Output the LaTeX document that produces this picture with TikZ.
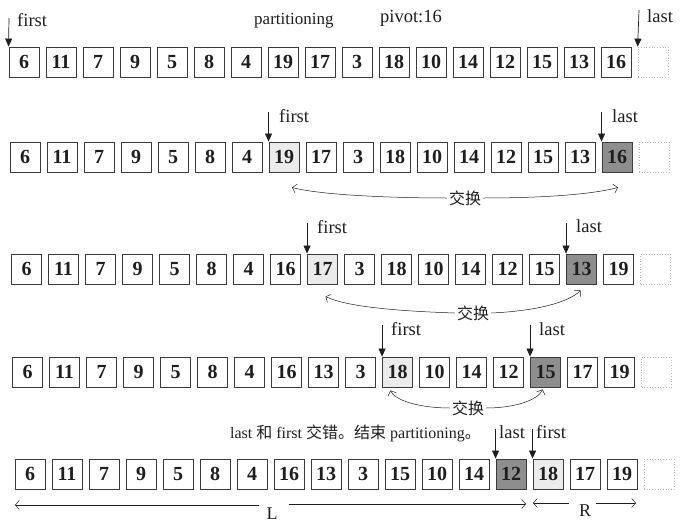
\documentclass[tikz,border=0pt]{standalone}
\usepackage{fontspec}
\setmainfont{Liberation Serif}
\newfontfamily\cjk{Noto Sans CJK SC}
\usetikzlibrary{arrows.meta,calc}
\definecolor{txt}{HTML}{1E1E1E}
\definecolor{boxc}{HTML}{3A3A3A}
\definecolor{lightc}{HTML}{EBEBEB}
\definecolor{darkc}{HTML}{8E8E8E}
\begin{document}
\begin{tikzpicture}[x=1pt,y=-1pt,
  cn/.style={draw=boxc, line width=0.9pt, minimum width=30pt, minimum height=30pt,
    inner sep=0pt, text=txt, font=\fontsize{20}{20}\selectfont\bfseries},
  cl/.style={cn, fill=lightc},
  cd/.style={cn, fill=darkc},
  emptybox/.style={draw=gray!55, dotted, line width=0.7pt, minimum width=30pt, minimum height=30pt, inner sep=0pt},
  ptr/.style={-{Triangle[length=8pt,width=7pt]}, line width=0.7pt, draw=txt},
  lbl/.style={font=\fontsize{18.5}{18.5}\selectfont, text=txt, inner sep=0pt, anchor=base west},
  sw/.style={-{Straight Barb[length=4pt,width=9pt]}, line width=0.5pt, draw=txt},
  swl/.style={font=\cjk\fontsize{16}{16}\selectfont, text=txt, inner sep=2pt},
  lr/.style={-{Straight Barb[length=4pt,width=9pt]}, line width=0.5pt, draw=txt},
]
\fill[white] (0,0) rectangle (685,530);
\useasboundingbox (0,0) rectangle (685,530);

% ---------- row 1 ----------
\foreach \v/\s [count=\i] in {6/cn,11/cn,7/cn,9/cn,5/cn,8/cn,4/cn,19/cn,17/cn,3/cn,18/cn,10/cn,14/cn,12/cn,15/cn,13/cn,16/cn}
  \node[\s] (r1b\i) at ({24+(\i-1)*37},62) {\v};
\node[emptybox] (r1b18) at ({24+17*37},62) {};
\coordinate (r1ft) at (9,18);
\coordinate (r1lt) at (639,10);
\draw[ptr] (r1ft) -- (r1b1.north west);
\draw[ptr] (r1lt) -- (r1b18.north west);
\node[lbl] (r1fl) at (17,27) {first};
\node[lbl] (r1ll) at (647,23) {last};
\node[lbl, font=\fontsize{17}{17}\selectfont] (part) at (254,24) {partitioning};
\node[lbl] (piv) at (380,23) {pivot:16};

% ---------- row 2 ----------
\foreach \v/\s [count=\i] in {6/cn,11/cn,7/cn,9/cn,5/cn,8/cn,4/cn,19/cl,17/cn,3/cn,18/cn,10/cn,14/cn,12/cn,15/cn,13/cn,16/cd}
  \node[\s] (r2b\i) at ({25+(\i-1)*37},157) {\v};
\node[emptybox] (r2b18) at ({25+17*37},157) {};
\coordinate (r2ft) at ($(r2b8.north west)+(0,-30)$);
\coordinate (r2lt) at ($(r2b17.north west)+(0,-30)$);
\draw[ptr] (r2ft) -- (r2b8.north west);
\draw[ptr] (r2lt) -- (r2b17.north west);
\node[lbl] (r2fl) at (279,122) {first};
\node[lbl] (r2ll) at (612,122) {last};
\node[swl] (x2) at (465,198) {交换};
\coordinate (e2l) at ($(r2b8.south)+(8,15)$);
\coordinate (e2r) at ($(r2b17.south)+(1,15)$);
\draw[sw] (x2.west) .. controls ($(x2.west)+(-50,0)$) and ($(e2l)+(30,8)$) .. (e2l);
\draw[sw] (x2.east) .. controls ($(x2.east)+(50,0)$) and ($(e2r)+(-30,8)$) .. (e2r);

% ---------- row 3 ----------
\foreach \v/\s [count=\i] in {6/cn,11/cn,7/cn,9/cn,5/cn,8/cn,4/cn,16/cn,17/cl,3/cn,18/cn,10/cn,14/cn,12/cn,15/cn,13/cd,19/cn}
  \node[\s] (r3b\i) at ({26.5+(\i-1)*37},269) {\v};
\node[emptybox] (r3b18) at ({26.5+17*37},269) {};
\coordinate (r3ft) at ($(r3b9.north west)+(0,-31)$);
\coordinate (r3lt) at ($(r3b16.north west)+(0,-31)$);
\draw[ptr] (r3ft) -- (r3b9.north west);
\draw[ptr] (r3lt) -- (r3b16.north west);
\node[lbl] (r3fl) at (317,233) {first};
\node[lbl] (r3ll) at (576,232) {last};
\node[swl] (x3) at (473,313) {交换};
\coordinate (e3l) at ($(r3b9.south)+(3,12)$);
\coordinate (e3r) at ($(r3b16.south)+(-1,6)$);
\draw[sw] (x3.west) .. controls ($(x3.west)+(-60,-2)$) and ($(e3l)+(20,10)$) .. (e3l);
\draw[sw] (x3.east) .. controls ($(x3.east)+(45,-2)$) and ($(e3r)+(-12,12)$) .. (e3r);

% ---------- row 4 ----------
\foreach \v/\s [count=\i] in {6/cn,11/cn,7/cn,9/cn,5/cn,8/cn,4/cn,16/cn,13/cn,3/cn,18/cl,10/cn,14/cn,12/cn,15/cd,17/cn,19/cn}
  \node[\s] (r4b\i) at ({27.5+(\i-1)*37},372) {\v};
\node[emptybox] (r4b18) at ({27.5+17*37},372) {};
\coordinate (r4ft) at ($(r4b11.north west)+(0,-32)$);
\coordinate (r4lt) at ($(r4b15.north west)+(0,-32)$);
\draw[ptr] (r4ft) -- (r4b11.north west);
\draw[ptr] (r4lt) -- (r4b15.north west);
\node[lbl] (r4fl) at (391,335) {first};
\node[lbl] (r4ll) at (539,335) {last};
\node[swl] (x4) at (468,408) {交换};
\coordinate (e4l) at ($(r4b11.south)+(-7,3)$);
\coordinate (e4r) at ($(r4b15.south)+(-3,2)$);
\draw[sw] (x4.west) .. controls ($(x4.west)+(-30,0)$) and ($(e4l)+(4,10)$) .. (e4l);
\draw[sw] (x4.east) .. controls ($(x4.east)+(30,0)$) and ($(e4r)+(-4,10)$) .. (e4r);

% ---------- row 5 ----------
\foreach \v/\s [count=\i] in {6/cn,11/cn,7/cn,9/cn,5/cn,8/cn,4/cn,16/cn,13/cn,3/cn,15/cn,10/cn,14/cn,12/cd,18/cl,17/cn,19/cn}
  \node[\s] (r5b\i) at ({30+(\i-1)*37},474) {\v};
\node[emptybox] (r5b18) at ({30+17*37},474) {};
\coordinate (r5lt) at ($(r5b14.north west)+(0,-30)$);
\coordinate (r5ft) at ($(r5b15.north west)+(0,-30)$);
\draw[ptr] (r5lt) -- (r5b14.north west);
\draw[ptr] (r5ft) -- (r5b15.north west);
\node[lbl] (r5ll) at (499,438) {last};
\node[lbl] (r5fl) at (536,438) {first};
\node[lbl, anchor=base east, font=\fontsize{16}{16}\selectfont] (msg) at (481,438)
  {last {\cjk 和} first {\cjk 交错。结束} partitioning{\cjk 。}};

% L / R ranges
\node[text=txt, font=\fontsize{18}{18}\selectfont, inner sep=1pt] (Lt) at (272,514) {L};
\node[text=txt, font=\fontsize{18}{18}\selectfont, inner sep=1pt] (Rt) at (585,511) {R};
\coordinate (La) at (15,505);
\coordinate (Lb) at (526,504);
\coordinate (Ra) at (533,503);
\coordinate (Rb) at (636,503);
\draw[lr] ($(Lt.west |- La)+(-6,0)$) -- (La);
\draw[lr] ($(Lt.east |- Lb)+(10,0)$) -- (Lb);
\draw[lr] ($(Rt.west |- Ra)+(-9,0)$) -- (Ra);
\draw[lr] ($(Rt.east |- Rb)+(4,0)$) -- (Rb);
\end{tikzpicture}
\end{document}
